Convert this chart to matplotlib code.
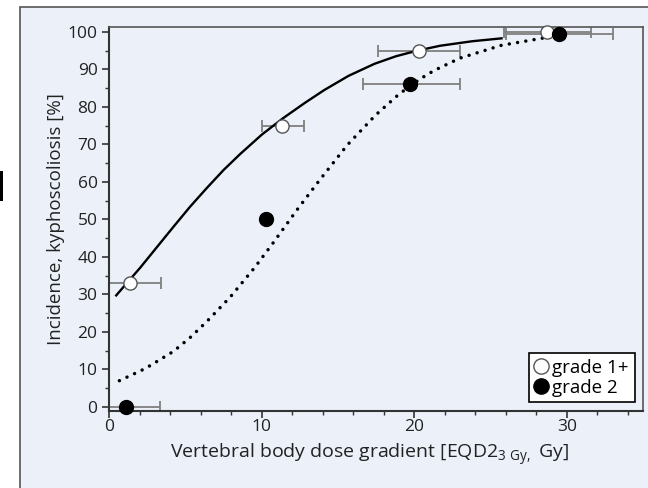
import numpy as np
import matplotlib
matplotlib.use("Agg")
import matplotlib.pyplot as plt
from matplotlib.patches import Rectangle
from matplotlib.lines import Line2D
from matplotlib.ticker import MultipleLocator

plt.rcParams['font.family'] = ['Open Sans', 'DejaVu Sans']
plt.rcParams['mathtext.fontset'] = 'custom'
plt.rcParams['mathtext.rm'] = 'Open Sans'

# observed incidence, grade 1+ (open) and grade 2 (filled)
g1_x = [1.35, 11.3, 20.3, 28.7]
g1_y = [33, 75, 95, 100]
g1_lo = [-0.7, 10.0, 17.6, 25.9]
g1_hi = [3.4, 12.8, 23.0, 31.6]

g2_x = [1.1, 10.25, 19.75, 29.5]
g2_y = [0, 50, 86, 99.5]
g2_lo = [-1.1, 10.25, 16.65, 26.0]
g2_hi = [3.3, 10.25, 23.0, 33.0]

# fitted dose-response curves
fit1_x = [0.4, 1.4, 2.0, 3.0, 4.2, 5.3, 6.4, 7.5, 8.6, 10.0, 11.4, 12.8, 14.1, 15.7, 17.4, 18.8, 20.2, 21.7, 23.8, 25.8]
fit1_y = [29.5, 34.2, 37.0, 42.0, 48.0, 53.4, 58.4, 63.2, 67.5, 72.6, 77.0, 81.0, 84.5, 88.3, 91.5, 93.5, 95.0, 96.3, 97.5, 98.3]

fit2_x = [0.66, 2.13, 2.67, 4.2, 5.3, 6.4, 7.93, 9.5, 10.7, 12.3, 13.7, 15.6, 17.46, 19.0, 20.4, 21.3, 23.0, 25.7, 28.95]
fit2_y = [7.0, 9.8, 11.0, 14.8, 18.5, 22.8, 29.3, 37.0, 43.5, 52.5, 60.0, 69.8, 77.8, 83.4, 87.5, 89.7, 93.0, 96.4, 98.7]

panel = '#ebf0f9'
fig = plt.figure(figsize=(6.48, 4.88), dpi=100)
fig.patch.set_facecolor('white')
fig.patches.append(Rectangle((0.031, -0.1), 1.2, 0.0857 + 1.0, transform=fig.transFigure,
                             facecolor=panel, edgecolor='#555555', lw=1.2, zorder=-2))
fig.patches.append(Rectangle((0.0, 0.588), 0.005, 0.062, transform=fig.transFigure,
                             facecolor='black', edgecolor='none', zorder=-1))

ax = fig.add_axes([0.1687, 0.1584, 0.8236, 0.7863])
ax.set_facecolor('none')

ax.plot(fit1_x, fit1_y, color='black', lw=1.7, zorder=3, solid_capstyle='butt',
        solid_joinstyle='round')
ax.plot(fit2_x, fit2_y, color='black', lw=2.5, linestyle=(0, (0.01, 2.4)),
        dash_capstyle='round', zorder=3)

ebar = dict(color='#808080', lw=1.3, capsize=4, capthick=1.3, zorder=2)
ax.errorbar(g1_x, g1_y, xerr=[np.subtract(g1_x, g1_lo), np.subtract(g1_hi, g1_x)],
            fmt='none', **ebar)
ax.errorbar(g2_x, g2_y, xerr=[np.subtract(g2_x, g2_lo), np.subtract(g2_hi, g2_x)],
            fmt='none', **ebar)
ax.plot(g1_x, g1_y, 'o', ms=9.5, mfc='white', mec='#555555', mew=1.0, zorder=5, clip_on=False)
ax.plot(g2_x, g2_y, 'o', ms=10, mfc='black', mec='black', zorder=5, clip_on=False)

ax.set_xlim(0, 35)
ax.set_ylim(-1, 101.3)
ax.xaxis.set_major_locator(MultipleLocator(10))
ax.xaxis.set_minor_locator(MultipleLocator(2))
ax.yaxis.set_major_locator(MultipleLocator(10))
ax.yaxis.set_minor_locator(MultipleLocator(5))
ax.tick_params(which='major', direction='out', length=5, width=1.2, color='#333333',
               labelsize=12.5, labelcolor='#222222', pad=3.5)
ax.tick_params(axis='x', which='major', pad=1)
ax.tick_params(which='minor', direction='out', length=3, width=1.0, color='#333333')
for side in ['left', 'bottom']:
    ax.spines[side].set_color('#333333')
    ax.spines[side].set_linewidth(1.5)
for side in ['top', 'right']:
    ax.spines[side].set_color('#555555')
    ax.spines[side].set_linewidth(1.2)

ax.set_xlabel(r'Vertebral body dose gradient [EQD2$_{\mathrm{3\ Gy,}}$ Gy]',
              fontsize=14, color='#222222', labelpad=5)
ax.xaxis.label.set_x(0.4885)
ax.set_ylabel('Incidence, kyphoscoliosis [%]', fontsize=13.5, color='#222222', labelpad=2)

handles = [Line2D([], [], ls='none', marker='o', ms=11, mfc='white', mec='#555555', mew=1.0),
           Line2D([], [], ls='none', marker='o', ms=11, mfc='black', mec='black')]
leg = ax.legend(handles, ['grade 1+', 'grade 2'], loc='lower right', fontsize=13.5,
                frameon=True, fancybox=False, handlelength=0.7, handletextpad=0.25,
                borderpad=0.3, labelspacing=0.1, borderaxespad=0.45)
leg.get_frame().set_edgecolor('black')
leg.get_frame().set_linewidth(1.2)
leg.get_frame().set_facecolor('white')
leg.get_frame().set_alpha(1)

fig.savefig('out.png', dpi=100)
